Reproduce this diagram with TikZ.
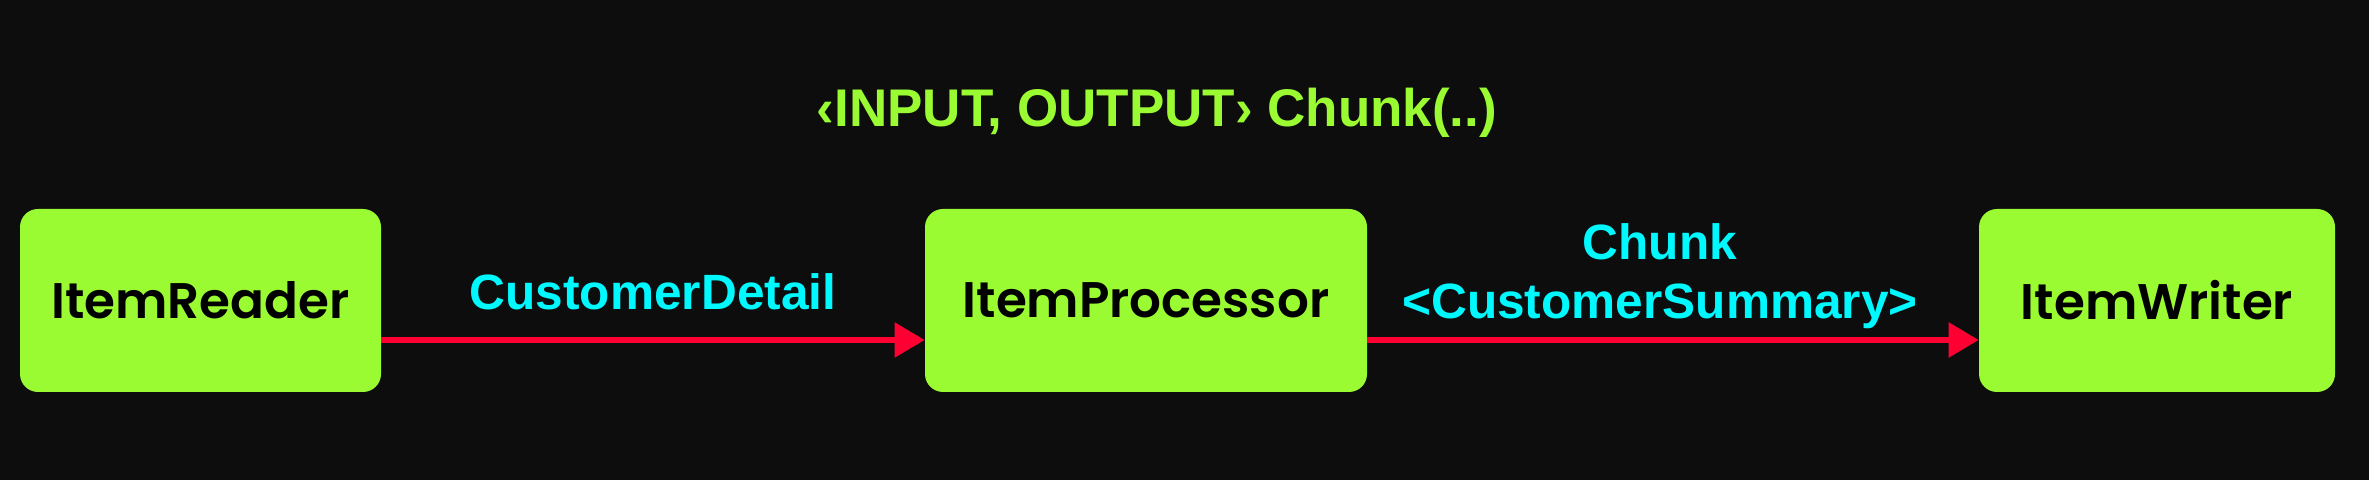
\documentclass[tikz,border=0pt]{standalone}
\usepackage{fontspec}
\setmainfont{Poppins}
\newfontfamily\semifont{Poppins SemiBold}
\newfontfamily\labelfont{Liberation Sans}
\usetikzlibrary{arrows.meta}
\definecolor{bgdark}{HTML}{0D0D0D}
\definecolor{lime}{HTML}{9AFB33}
\definecolor{aqua}{HTML}{00F8FF}
\definecolor{flowred}{HTML}{FF0033}
\tikzset{stage/.style={fill=lime, rounded corners=9pt, minimum height=91.5pt, inner sep=0pt, text=black, font=\semifont\fontsize{25}{30}\selectfont},
  flow/.style={flowred, line width=2.8pt, -{Triangle[length=15pt,width=17pt]}},
  tag/.style={text=aqua, inner sep=0pt, align=center, font=\labelfont\bfseries\fontsize{24.8}{29.5}\selectfont}}

\begin{document}
\begin{tikzpicture}[x=0.5pt,y=0.5pt]
   \fill[bgdark] (0,0) rectangle (2369,480);
   % the three steps
   \node[stage, minimum width=180.5pt] (reader) at (200.5,179.5) {ItemReader};
   \node[stage, minimum width=221pt] (proc) at (1146,179.5) {ItemProcessor};
   \node[stage, minimum width=178pt] (writer) at (2157,179.5) {ItemWriter};
   % flows
   \draw[flow] ([yshift=-19.75pt]reader.east) -- ([yshift=-19.75pt]proc.west);
   \draw[flow] ([yshift=-19.75pt]proc.east) -- ([yshift=-19.75pt]writer.west);
   \node[tag, anchor=base] (detail) at (653,170) {CustomerDetail};
   \node[tag] (summary) at (1660,204) {Chunk\\<CustomerSummary>};
   % heading
   \node[text=lime, inner sep=0pt, anchor=base, font=\labelfont\bfseries\fontsize{26.5}{30}\selectfont] (title) at (1157,353) {‹INPUT, OUTPUT› Chunk(..)};
\end{tikzpicture}
\end{document}
